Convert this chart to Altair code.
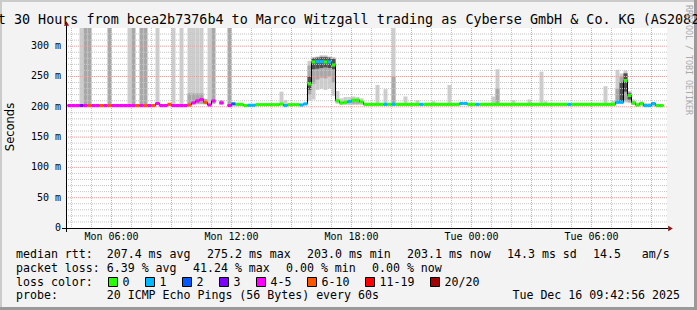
import altair as alt
import pandas as pd

# ---------------- layout ----------------
PLOT_W, PLOT_H = 600, 200
PAD_L, PAD_T, PAD_R, PAD_B = 67, 28, 30, 82
X_DOMAIN = [3.775, 33.775]          # hours since Mon 00:00
Y_DOMAIN = [0, 330]                 # milliseconds
START_H, STEP_H = 3.8, 0.2          # first 12-minute bin
MONO = "DejaVu Sans Mono"

# ---------------- texts ----------------
title_text = "Last 30 Hours from bcea2b7376b4 to Marco Witzgall trading as Cyberse GmbH & Co. KG (AS208294)"
x_tick_hours = [6, 12, 18, 24, 30]
x_tick_labels = ["Mon 06:00", "Mon 12:00", "Mon 18:00", "Tue 00:00", "Tue 06:00"]
y_tick_values = [0, 50, 100, 150, 200, 250, 300]
y_tick_labels = ["0  ", "50 m", "100 m", "150 m", "200 m", "250 m", "300 m"]
y_title = "Seconds"
legend_line1 = ["median rtt:  207.4 ms avg", "275.2 ms max", "203.0 ms min",
                "203.1 ms now", "14.3 ms sd", "14.5   am/s"]
legend_line2 = ["packet loss: 6.39 % avg", "41.24 % max", "0.00 % min", "0.00 % now"]
loss_title = "loss color:"
probe_text = "probe:       20 ICMP Echo Pings (56 Bytes) every 60s"
date_text = "Tue Dec 16 09:42:56 2025"
watermark = "RRDTOOL / TOBI OETIKER"

loss_labels = ["0", "1", "2", "3", "4-5", "6-10", "11-19", "20/20"]
loss_colors = ["#26ff00", "#00b8ff", "#0059ff", "#7e00ff", "#ff00ff", "#ff5500", "#ff0000", "#a10000"]

# ---------------- data: median rtt (ms) per 12-minute bin ----------------
median = [
    202, 202, 202, 202, 202, 202, 202, 202, 202, 202,
    202, 202, 202, 202, 202, 202, 202, 202, 202, 202,
    202, 202, 205.3, 202, 202, 204, 202, 202, 202, 202,
    203, 206.4, 209.7, 212, 207.4, 203, 209.7, None, 206.4, None,
    202, 204.8, 204, 204, 202, 202.5, 202.5, 203.5, 203.5, 203.5,
    203.5, 203.5, 203.5, 204.5, 202, 203.5, 203.5, 203.5, 203, 204.8,
    237.8, 274, 274.5, 274.5, 274, 274, 269, 210, 206.4, 207.4,
    208.6, 210.8, 210.8, 208, 204, 204, 204, 204, 204, 204,
    204, 204, 204, 204, 204, 204, 204, 204, 204, 204,
    204, 204, 204, 204, 204, 204, 204, 204, 205.5, 205.5,
    204, 204, 204, 204, 204, 204, 204, 204, 204, 204,
    204, 204, 204, 204, 204, 204, 204, 204, 204, 204,
    204, 204, 204, 204, 204, 204, 204, 204, 204, 204,
    204, 204, 204, 204, 204, 204, 204, 207.5, 207.5, 243.3,
    218.5, 206.4, 203, 205.3, 202, 202, 205.3, 202, 202,
]
# loss colour class per bin (index into loss_labels)
loss = [
    4, 4, 4, 3, 4, 5, 4, 4, 5, 4,
    5, 4, 4, 4, 4, 4, 4, 5, 4, 5,
    4, 5, 4, 4, 4, 5, 4, 4, 4, 4,
    5, 4, 4, 4, 5, 4, 4, None, 4, None,
    4, 2, 0, 0, 0, 1, 1, 0, 0, 0,
    0, 0, 0, 0, 1, 0, 0, 0, 1, 1,
    0, 0, 1, 1, 0, 1, 0, 0, 0, 0,
    1, 0, 0, 0, 0, 0, 0, 0, 0, 1,
    0, 1, 0, 0, 0, 0, 0, 0, 1, 0,
    0, 0, 0, 0, 0, 0, 0, 0, 1, 1,
    0, 0, 1, 0, 0, 0, 0, 0, 0, 0,
    0, 0, 0, 0, 0, 0, 0, 0, 0, 0,
    0, 0, 0, 0, 0, 1, 0, 0, 0, 0,
    0, 0, 0, 0, 0, 0, 0, 1, 1, 0,
    0, 0, 0, 0, 1, 1, 1, 0, 0,
]
# smoke ranges (bin, low ms, high ms); 400 = beyond the top of the graph
smoke_light = [
    (3, 204, 400), (15, 204, 400), (22, 207, 400), (26, 204, 400), (28, 204, 400),
    (30, 204, 400), (31, 204, 400), (32, 204, 400), (33, 204, 400), (35, 204, 400),
    (53, 205, 225), (54, 203, 211),
    (60, 210, 276), (61, 212, 282), (62, 228, 283), (63, 230, 285), (64, 228, 285),
    (65, 230, 283), (66, 218, 282), (67, 205, 226), (68, 203, 214), (69, 203, 216),
    (70, 203, 216), (71, 203, 217), (72, 203, 216), (73, 203, 214),
    (77, 205, 236), (79, 205, 229), (81, 205, 400), (84, 205, 217), (87, 205, 211),
    (91, 205, 209), (95, 205, 236), (106, 205, 217), (107, 205, 262), (111, 205, 211),
    (115, 205, 212), (118, 205, 258), (119, 205, 209), (134, 205, 234),
    (136, 204, 210), (137, 205, 261), (138, 205, 255), (139, 207, 260), (140, 206, 226),
    (141, 203, 212), (142, 200, 207), (143, 201, 209), (144, 200, 206), (145, 200, 206),
    (146, 200, 206),
]
smoke_mid = [
    (4, 204, 400), (5, 204, 400), (10, 204, 400), (16, 204, 400), (18, 204, 400),
    (19, 204, 400), (30, 205, 222), (31, 205, 222), (32, 205, 222), (33, 205, 222),
    (34, 204, 213), (36, 205, 400), (38, 204, 211), (40, 203, 400),
    (60, 220, 268), (61, 238, 281), (62, 245, 282), (63, 248, 283), (64, 247, 283),
    (65, 250, 282), (66, 240, 280), (71, 205, 213), (72, 205, 213),
    (81, 206, 250), (107, 205, 230), (137, 206, 230), (138, 206, 250), (139, 210, 256),
    (140, 208, 224), (141, 204, 209),
]
smoke_dark = [
    (60, 228, 250), (61, 262, 280), (62, 263, 281), (63, 264, 282), (64, 265, 282),
    (65, 264, 281), (66, 262, 279), (138, 208, 240), (139, 225, 255), (140, 212, 222),
]

# ---------------- frames ----------------
N = len(median)
t0 = [START_H + STEP_H * k for k in range(N)]
t1 = [v + STEP_H for v in t0]

xs = alt.Scale(domain=X_DOMAIN, nice=False, zero=False)
ys = alt.Scale(domain=Y_DOMAIN, nice=False, zero=False)


def smoke_layer(rows, color):
    df = pd.DataFrame([{"t": t0[k], "t2": t1[k], "lo": lo, "hi": hi} for k, lo, hi in rows])
    return alt.Chart(df).mark_rect(color=color, clip=True).encode(
        x=alt.X("t:Q", scale=xs, axis=None), x2="t2:Q",
        y=alt.Y("lo:Q", scale=ys, axis=None), y2="hi:Q")


line_rows, seg = [], 0
for k in range(N):
    m = median[k]
    if m is None:
        seg += 1
        continue
    line_rows.append({"t": t0[k], "v": m, "seg": seg})
    if k == N - 1 or median[k + 1] is None:
        line_rows.append({"t": t1[k], "v": m, "seg": seg})
line_df = pd.DataFrame(line_rows)

loss_rows = []
for k in range(N):
    if median[k] is None or loss[k] is None:
        continue
    loss_rows.append({"t": t0[k], "t2": t1[k], "lo": median[k] - 2.6, "hi": median[k] + 2.6,
                      "code": loss_labels[loss[k]]})
loss_df = pd.DataFrame(loss_rows)

# grid
v_minor = pd.DataFrame({"h": [h for h in range(4, 34) if h % 3 != 0]})
v_major = pd.DataFrame({"h": [h for h in range(6, 34, 3)]})
h_minor = pd.DataFrame({"v": [v for v in range(10, 330, 10) if v % 50 != 0]})
h_major = pd.DataFrame({"v": [v for v in range(50, 330, 50)]})

MINOR_C, MAJOR_C = "#c4c4c4", "#eaa0a0"
grid_layers = [
    alt.Chart(v_minor).mark_rule(color=MINOR_C, strokeDash=[1, 1], strokeWidth=1).encode(
        x=alt.X("h:Q", scale=xs, axis=None)),
    alt.Chart(h_minor).mark_rule(color=MINOR_C, strokeDash=[1, 1], strokeWidth=1).encode(
        y=alt.Y("v:Q", scale=ys, axis=None)),
    alt.Chart(v_major).mark_rule(color=MAJOR_C, strokeDash=[1, 1], strokeWidth=1).encode(
        x=alt.X("h:Q", scale=xs, axis=None)),
    alt.Chart(h_major).mark_rule(color=MAJOR_C, strokeDash=[1, 1], strokeWidth=1).encode(
        y=alt.Y("v:Q", scale=ys, axis=None)),
]

median_line = alt.Chart(line_df).mark_line(color="black", strokeWidth=1,
                                           interpolate="step-after").encode(
    x=alt.X("t:Q", scale=xs, axis=None), y=alt.Y("v:Q", scale=ys, axis=None),
    detail="seg:N")

loss_band = alt.Chart(loss_df).mark_rect().encode(
    x=alt.X("t:Q", scale=xs, axis=None), x2="t2:Q",
    y=alt.Y("lo:Q", scale=ys, axis=None), y2="hi:Q",
    color=alt.Color("code:N", scale=alt.Scale(domain=loss_labels, range=loss_colors), legend=None))

# axis labels drawn through the shared scales
x_lab_df = pd.DataFrame({"h": x_tick_hours, "txt": x_tick_labels})
x_labels = alt.Chart(x_lab_df).mark_text(align="center", baseline="alphabetic", font=MONO,
                                         fontSize=10, color="black").encode(
    x=alt.X("h:Q", scale=xs, axis=None), y=alt.value(240 - PAD_T), text="txt:N")
y_lab_df = pd.DataFrame({"v": y_tick_values, "txt": [s.replace(" ", "\u00a0") for s in y_tick_labels]})
y_labels = alt.Chart(y_lab_df).mark_text(align="right", baseline="middle", font=MONO,
                                         fontSize=10, color="black").encode(
    y=alt.Y("v:Q", scale=ys, axis=None), x=alt.value(61 - PAD_L), text="txt:N")
y_title_mark = alt.Chart(pd.DataFrame({"txt": [y_title]})).mark_text(
    align="center", baseline="middle", angle=270, font="DejaVu Sans", fontSize=11.5,
    color="black").encode(x=alt.value(11 - PAD_L), y=alt.value(127 - PAD_T), text="txt:N")

one = pd.DataFrame({"a": [0]})
axis_lines = [
    alt.Chart(one).mark_rule(color="black", strokeWidth=1).encode(
        x=alt.value(-5), x2=alt.value(601), y=alt.value(200.5)),
    alt.Chart(one).mark_rule(color="black", strokeWidth=1).encode(
        x=alt.value(-0.5), y=alt.value(-3), y2=alt.value(204)),
    alt.Chart(one).mark_point(shape="triangle-up", filled=True, color="#8b1010",
                              size=28, opacity=1).encode(x=alt.value(-0.5), y=alt.value(-4.5)),
    alt.Chart(one).mark_point(shape="triangle-right", filled=True, color="#8b1010",
                              size=28, opacity=1).encode(x=alt.value(603.5), y=alt.value(200.5)),
]

# canvas border (3-D shade)
border_df = pd.DataFrame([
    {"x": -67, "x2": 630, "y": -28, "y2": -26, "c": "#cbcbcb"},
    {"x": -67, "x2": -65, "y": -28, "y2": 282, "c": "#cbcbcb"},
    {"x": -67, "x2": 630, "y": 279, "y2": 282, "c": "#9a9a9a"},
    {"x": 627, "x2": 630, "y": -28, "y2": 282, "c": "#9a9a9a"},
])
border = alt.Chart(border_df).mark_rect().encode(
    x=alt.X("x:Q", scale=None), x2="x2:Q", y=alt.Y("y:Q", scale=None), y2="y2:Q",
    color=alt.Color("c:N", scale=None))

# legend text
ADV, GAP = 7.0, 16.0
text_rows = []


def add_tokens(tokens, x0, y):
    x = x0
    for tok in tokens:
        text_rows.append({"px": x - PAD_L, "py": y - PAD_T, "txt": tok.replace(" ", "\u00a0")})
        x += len(tok) * ADV + GAP


add_tokens(legend_line1, 16, 258)
add_tokens(legend_line2, 16, 272)
add_tokens([loss_title], 16, 285.5)
add_tokens([probe_text], 16, 299)

box_rows = []
bx = 108
for lab, col in zip(loss_labels, loss_colors):
    box_rows.append({"x": bx + 0.5 - PAD_L, "x2": bx + 9.5 - PAD_L,
                     "y": 277.5 - PAD_T, "y2": 286.5 - PAD_T, "c": col})
    text_rows.append({"px": bx + 14.5 - PAD_L, "py": 285.5 - PAD_T, "txt": lab})
    bx += 15 + len(lab) * ADV + 15

text_df = pd.DataFrame(text_rows)
legend_text = alt.Chart(text_df).mark_text(align="left", baseline="alphabetic", font=MONO,
                                           fontSize=11.6, color="black").encode(
    x=alt.X("px:Q", scale=None), y=alt.Y("py:Q", scale=None), text="txt:N")

box_df = pd.DataFrame(box_rows)
legend_boxes = alt.Chart(box_df).mark_rect(stroke="black", strokeWidth=1).encode(
    x=alt.X("x:Q", scale=None), x2="x2:Q", y=alt.Y("y:Q", scale=None), y2="y2:Q",
    color=alt.Color("c:N", scale=None))

date_mark = alt.Chart(pd.DataFrame({"txt": [date_text]})).mark_text(
    align="right", baseline="alphabetic", font=MONO, fontSize=11.6, color="black").encode(
    x=alt.value(680 - PAD_L), y=alt.value(299 - PAD_T), text="txt:N")

title_mark = alt.Chart(pd.DataFrame({"txt": [title_text]})).mark_text(
    align="center", baseline="alphabetic", font=MONO, fontSize=13.4, color="black").encode(
    x=alt.value(348.5 - PAD_L), y=alt.value(24 - PAD_T), text="txt:N")

wm_mark = alt.Chart(pd.DataFrame({"txt": [watermark]})).mark_text(
    align="left", baseline="middle", angle=90, font=MONO, fontSize=8.3, color="#aaaaaa").encode(
    x=alt.value(688 - PAD_L), y=alt.value(5 - PAD_T), text="txt:N")

chart = alt.layer(
    border,
    smoke_layer(smoke_light, "#cdcdcd"),
    smoke_layer(smoke_mid, "#a8a8a8"),
    smoke_layer(smoke_dark, "#4e4e4e"),
    *grid_layers,
    median_line,
    loss_band,
    *axis_lines,
    x_labels,
    y_labels,
    y_title_mark,
    legend_boxes,
    legend_text,
    date_mark,
    title_mark,
    wm_mark,
).properties(
    width=PLOT_W, height=PLOT_H,
    autosize=alt.AutoSizeParams(type="none"),
    padding={"left": PAD_L, "top": PAD_T, "right": PAD_R, "bottom": PAD_B},
).configure(background="#f3f3f3").configure_view(fill="white", strokeWidth=0)

chart.save("out.html", embed_options={"renderer": "svg", "actions": False})
